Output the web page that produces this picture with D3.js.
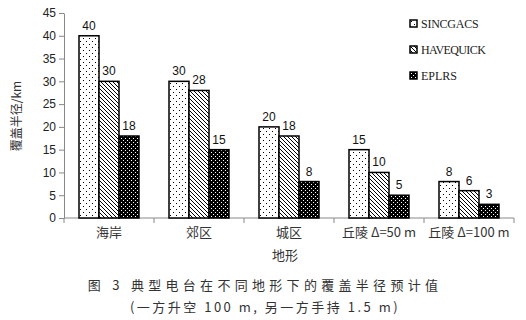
<!DOCTYPE html>
<html>
<head>
<meta charset="utf-8">
<script src="https://cdn.jsdelivr.net/npm/d3@7"></script>
<style>
  body { margin: 0; background: #fff; }
  svg { display: block; }
</style>
</head>
<body>
<div id="chart"></div>
<script>
// data
var categories = ["海岸", "郊区", "城区", "丘陵 Δ=50 m", "丘陵 Δ=100 m"];
var seriesNames = ["SINCGACS", "HAVEQUICK", "EPLRS"];
var sincgacs = [40, 30, 20, 15, 8];
var havequick = [30, 28, 18, 10, 6];
var eplrs = [18, 15, 8, 5, 3];
var yTicks = [0, 5, 10, 15, 20, 25, 30, 35, 40, 45];

var W = 526, H = 320;
var margin = { left: 64, top: 13, right: 12, bottom: 102 };
var width = 514 - margin.left,
	height = 218 - margin.top;

var svg = d3.select("#chart").append("svg")
	.attr("width", W)
	.attr("height", H);

// patterns
var defs = svg.append("defs");
var pDots = defs.append("pattern").attr("id", "pDots")
	.attr("patternUnits", "userSpaceOnUse").attr("width", 6).attr("height", 6);
pDots.append("rect").attr("width", 6).attr("height", 6).attr("fill", "#fff");
pDots.append("rect").attr("x", 1).attr("y", 1).attr("width", 1).attr("height", 1).attr("fill", "#000");
pDots.append("rect").attr("x", 4).attr("y", 4).attr("width", 1).attr("height", 1).attr("fill", "#000");

var pHatch = defs.append("pattern").attr("id", "pHatch")
	.attr("patternUnits", "userSpaceOnUse").attr("width", 4).attr("height", 4);
pHatch.append("rect").attr("width", 4).attr("height", 4).attr("fill", "#fff");
pHatch.append("path").attr("d", "M-1,-1 L5,5 M-1,3 L1,5 M3,-1 L5,1")
	.attr("stroke", "#000").attr("stroke-width", 1);

var pChk = defs.append("pattern").attr("id", "pChk")
	.attr("patternUnits", "userSpaceOnUse").attr("width", 4).attr("height", 4);
pChk.append("rect").attr("width", 4).attr("height", 4).attr("fill", "#000");
pChk.append("rect").attr("x", 1).attr("y", 1).attr("width", 1).attr("height", 1).attr("fill", "#fff");
pChk.append("rect").attr("x", 3).attr("y", 3).attr("width", 1).attr("height", 1).attr("fill", "#fff");

var fills = ["url(#pDots)", "url(#pHatch)", "url(#pChk)"];
var seriesData = [sincgacs, havequick, eplrs];

var g = svg.append("g")
	.attr("transform", "translate(" + margin.left + "," + margin.top + ")");

// scales
var x0 = d3.scaleBand().domain(categories).range([0, width]).paddingInner(0).paddingOuter(0);
var x1 = d3.scaleBand().domain(seriesNames).range([15, x0.bandwidth() - 15]);
var y = d3.scaleLinear().domain([0, 45]).range([height, 0]);

// y axis
var yAxis = g.append("g")
	.call(d3.axisLeft(y).tickValues(yTicks).tickSize(5).tickSizeOuter(0));
yAxis.select(".domain").attr("stroke", "#888");
yAxis.selectAll(".tick line").attr("stroke", "#888");
yAxis.selectAll("text")
	.attr("font-family", "'Liberation Sans', Arial, sans-serif")
	.attr("font-size", 12).attr("fill", "#222");

// x axis with ticks at category boundaries
var xAxis = g.append("g").attr("transform", "translate(0," + height + ")");
xAxis.append("line").attr("x1", 0).attr("x2", width).attr("stroke", "#888");
xAxis.selectAll("line.t")
	.data(categories.concat(["end"]))
	.enter().append("line")
	.attr("class", "t")
	.attr("x1", function(d, i) { return i < categories.length ? x0(d) : width; })
	.attr("x2", function(d, i) { return i < categories.length ? x0(d) : width; })
	.attr("y1", 0).attr("y2", 5).attr("stroke", "#888");
xAxis.selectAll("text")
	.data(categories)
	.enter().append("text")
	.attr("x", function(d) { return x0(d) + x0.bandwidth() / 2; })
	.attr("y", 19)
	.attr("text-anchor", "middle")
	.attr("font-family", "'Noto Sans CJK SC', sans-serif")
	.attr("font-size", 13).attr("fill", "#333")
	.text(function(d) { return d; });

// bars
seriesData.forEach(function(vals, s) {
	var grp = g.append("g");
	grp.selectAll("rect")
		.data(vals)
		.enter().append("rect")
		.attr("x", function(d, i) { return x0(categories[i]) + x1(seriesNames[s]); })
		.attr("y", function(d) { return y(d); })
		.attr("width", x1.bandwidth())
		.attr("height", function(d) { return height - y(d); })
		.attr("fill", fills[s])
		.attr("stroke", "#000")
		.attr("stroke-width", 1.5);
	grp.selectAll("text")
		.data(vals)
		.enter().append("text")
		.attr("x", function(d, i) { return x0(categories[i]) + x1(seriesNames[s]) + x1.bandwidth() / 2; })
		.attr("y", function(d) { return y(d) - 6; })
		.attr("text-anchor", "middle")
		.attr("font-family", "'Liberation Sans', Arial, sans-serif")
		.attr("font-size", 12).attr("fill", "#111")
		.text(function(d) { return d; });
});

// axis titles
svg.append("text")
	.attr("transform", "translate(21,116) rotate(-90)")
	.attr("text-anchor", "middle")
	.attr("font-family", "'Noto Sans CJK SC', sans-serif")
	.attr("font-size", 12).attr("fill", "#333")
	.text("覆盖半径/km");
svg.append("text")
	.attr("x", 285).attr("y", 260)
	.attr("text-anchor", "middle")
	.attr("font-family", "'Noto Sans CJK SC', sans-serif")
	.attr("font-size", 13).attr("fill", "#333")
	.text("地形");

// legend
var legend = svg.append("g").attr("transform", "translate(410,20)");
seriesNames.forEach(function(name, i) {
	var row = legend.append("g").attr("transform", "translate(0," + (i * 26) + ")");
	row.append("rect").attr("width", 7).attr("height", 7)
		.attr("fill", fills[i]).attr("stroke", "#000").attr("stroke-width", 1.5);
	row.append("text").attr("x", 11).attr("y", 8)
		.attr("font-family", "'Liberation Serif', serif")
		.attr("font-size", 12).attr("fill", "#222")
		.attr("textLength", name.length * 7.2)
		.text(name);
});

// caption
svg.append("text")
	.attr("x", 265).attr("y", 290)
	.attr("text-anchor", "middle")
	.attr("font-family", "'Noto Sans CJK SC', sans-serif")
	.attr("font-size", 13).attr("fill", "#333")
	.attr("letter-spacing", 4.3)
	.text("图 3  典型电台在不同地形下的覆盖半径预计值");
svg.append("text")
	.attr("x", 265).attr("y", 312)
	.attr("text-anchor", "middle")
	.attr("font-family", "'Noto Sans CJK SC', sans-serif")
	.attr("font-size", 13).attr("fill", "#333")
	.attr("letter-spacing", 2.5)
	.text("(一方升空 100 m, 另一方手持 1.5 m)");
</script>
</body>
</html>
